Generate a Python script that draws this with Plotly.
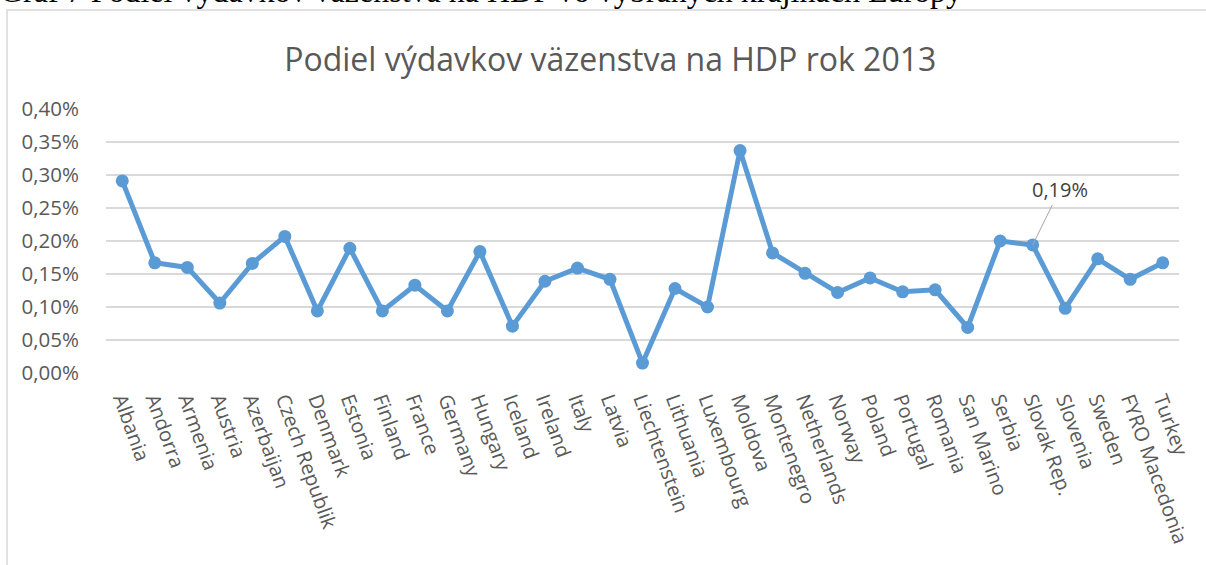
import plotly.graph_objects as go

countries = [
    "Albania", "Andorra", "Armenia", "Austria", "Azerbaijan", "Czech Republik",
    "Denmark", "Estonia", "Finland", "France", "Germany", "Hungary", "Iceland",
    "Ireland", "Italy", "Latvia", "Liechtenstein", "Lithuania", "Luxembourg",
    "Moldova", "Montenegro", "Netherlands", "Norway", "Poland", "Portugal",
    "Romania", "San Marino", "Serbia", "Slovak Rep.", "Slovenia", "Sweden",
    "FYRO Macedonia", "Turkey",
]
# share of prison spending on GDP, in percent
share_pct = [
    0.291, 0.167, 0.160, 0.106, 0.166, 0.207,
    0.094, 0.189, 0.094, 0.133, 0.094, 0.184, 0.071,
    0.139, 0.159, 0.142, 0.015, 0.128, 0.100,
    0.337, 0.182, 0.151, 0.122, 0.144, 0.123,
    0.126, 0.069, 0.200, 0.194, 0.098, 0.173,
    0.142, 0.167,
]
y_ticks = [0.0, 0.0005, 0.001, 0.0015, 0.002, 0.0025, 0.003, 0.0035, 0.004]
labelled = "Slovak Rep."

W, H = 1206, 565
L, R, T, B = 106, 27, 109, 192
pw, ph = W - L - R, H - T - B

def px_x(p):
    return (p - L) / pw

def px_y(p):
    return (H - B - p) / ph

values = [v / 100 for v in share_pct]
grey = "#595959"
blue = "#5B9BD5"

fig = go.Figure()
fig.add_trace(go.Scatter(
    x=countries, y=values, mode="lines+markers",
    line=dict(color=blue, width=5),
    marker=dict(color=blue, size=13),
    hoverinfo="x+y",
))

i = countries.index(labelled)
fig.add_annotation(
    x=countries[i], y=values[i], text=f"{share_pct[i]:.2f}".replace(".", ",") + "%",
    showarrow=True, arrowhead=0, arrowwidth=1, arrowcolor="#a6a6a6",
    ax=27, ay=-55, font=dict(size=20, color="#404040"),
)

# page caption cut off above the chart frame
fig.add_annotation(
    xref="paper", yref="paper", x=px_x(-2), y=px_y(-9),
    xanchor="left", yanchor="middle", showarrow=False,
    text="Graf 7 Podiel výdavkov väzenstva na HDP vo vybraných krajinách Európy",
    font=dict(family="Liberation Serif", size=32, color="black"),
)

# chart frame
fig.add_shape(
    type="rect", xref="paper", yref="paper",
    x0=px_x(7), x1=px_x(W + 10), y0=px_y(H + 10), y1=px_y(10),
    line=dict(color="#d9d9d9", width=1.5), layer="below",
)

fig.update_layout(
    width=W, height=H,
    margin=dict(l=L, r=R, t=T, b=B, autoexpand=False),
    paper_bgcolor="white", plot_bgcolor="white",
    separators=", ",
    showlegend=False,
    font=dict(family="Open Sans", size=20, color=grey),
    title=dict(
        text="Podiel výdavkov väzenstva na HDP rok 2013",
        x=0.506, xanchor="center", y=1 - 60 / H, yanchor="middle",
        font=dict(size=32, color=grey),
    ),
)
fig.update_xaxes(
    range=[-0.5, len(countries) - 0.5],
    showgrid=False, showline=False, zeroline=False, automargin=False,
    tickangle=70, ticks="", ticklabelstandoff=10,
    tickfont=dict(size=20, color=grey),
)
fig.update_yaxes(
    range=[0, 0.004], tickvals=y_ticks, tickformat=".2%",
    showgrid=True, gridcolor="#d9d9d9", gridwidth=1.5,
    zeroline=False, showline=False, automargin=False,
    ticks="outside", ticklen=22, tickcolor="rgba(0,0,0,0)",
    tickfont=dict(size=20.5, color=grey),
)

fig.write_html(
    "out.html",
    config={"displayModeBar": False},
    post_script="document.body.style.margin = '0';",
)
